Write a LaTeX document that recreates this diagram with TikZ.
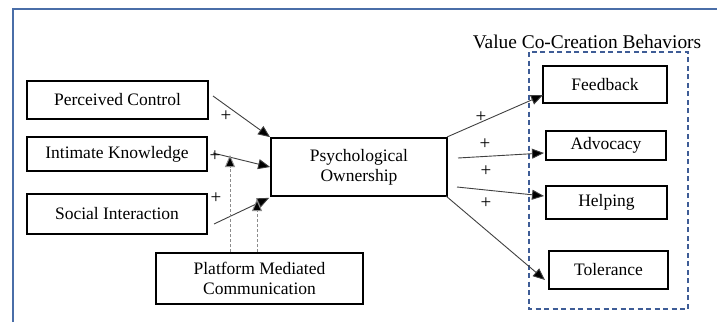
\documentclass[tikz,border=0pt]{standalone}
\usepackage{fontspec}
\setmainfont{Liberation Serif}
\usetikzlibrary{arrows.meta,calc}
\definecolor{frameblue}{HTML}{4A6EA8}
\definecolor{dashblue}{HTML}{3E5C96}
\begin{document}
\begin{tikzpicture}[x=1pt,y=-1pt,
  box/.style={draw=black,line width=1.7pt,fill=white,inner sep=0pt,align=center,font=\fontsize{17.5}{20}\selectfont},
  conn/.style={draw=black!75,line width=0.9pt,-{Triangle[length=12pt,width=10pt,fill=black]}},
  modl/.style={draw=black!45,line width=1pt,dash pattern=on 3pt off 2pt,-{Triangle[length=12pt,width=10pt,fill=black]}},
  plus/.style={font=\fontsize{19}{19}\selectfont,inner sep=0pt}]
\useasboundingbox (0,0) rectangle (717,322);
\fill[white] (0,0) rectangle (717,322);
% outer frame (cropped)
\draw[frameblue,line width=1.4pt] (13,322) -- (13,9) -- (717,9);
% dashed group
\draw[dashblue,line width=1.3pt,dash pattern=on 5pt off 3.5pt] (529,52) rectangle (688,309);
\node[font=\fontsize{19.4}{20}\selectfont,inner sep=0pt] (title) at (587,42) {Value Co-Creation Behaviors};
% nodes
\node[box,minimum width=181pt,minimum height=38pt] (pc) at (117.5,100) {Perceived Control};
\node[box,minimum width=180pt,minimum height=34pt] (ik) at (117,154) {Intimate Knowledge};
\node[box,minimum width=180pt,minimum height=40pt] (si) at (117,214) {Social Interaction};
\node[box,minimum width=207pt,minimum height=51pt] (pmc) at (259.5,278.5) {Platform Mediated\\Communication};
\node[box,minimum width=176pt,minimum height=58pt] (po) at (359,167) {Psychological\\Ownership};
\node[box,minimum width=124pt,minimum height=37pt] (fb) at (605,84.5) {Feedback};
\node[box,minimum width=120pt,minimum height=29pt] (ad) at (606,145.5) {Advocacy};
\node[box,minimum width=121pt,minimum height=33pt] (hp) at (606.5,202.5) {Helping};
\node[box,minimum width=119pt,minimum height=38pt] (tl) at (608.5,270) {Tolerance};
% free ends
\coordinate (pcs) at (213,96);
\coordinate (iks) at (213,153);
\coordinate (sis) at (214,224);
\coordinate (m1) at (230,155);
\coordinate (m2) at (257,199);
\coordinate (fbs) at (447,137);
\coordinate (ads) at (458,158);
\coordinate (hps) at (457,187);
\coordinate (tls) at (446,196);
\coordinate (fbe) at (543,95);
\coordinate (ade) at (544,153);
\coordinate (hpe) at (544,196);
\coordinate (tle) at (545,280);
% left connectors
\draw[conn] (pcs) -- (po.north west);
\draw[conn] (iks) -- ($(po.west)+(0,0)$);
\draw[conn] (sis) -- ($(po.south west)+(-1,1)$);
\draw[modl] (pmc.north -| m1) -- (m1);
\draw[modl] (pmc.north -| m2) -- (m2);
% right connectors
\draw[conn] (fbs) -- (fbe);
\draw[conn] (ads) -- (ade);
\draw[conn] (hps) -- (hpe);
\draw[conn] (tls) -- (tle);
% plus signs
\node[plus] (p1) at (226,116) {+};
\node[plus] (p2) at (215,156) {+};
\node[plus] (p3) at (216,198) {+};
\node[plus] (p4) at (481,117) {+};
\node[plus] (p5) at (485,144) {+};
\node[plus] (p6) at (486,171) {+};
\node[plus] (p7) at (486,203) {+};
\end{tikzpicture}
\end{document}
